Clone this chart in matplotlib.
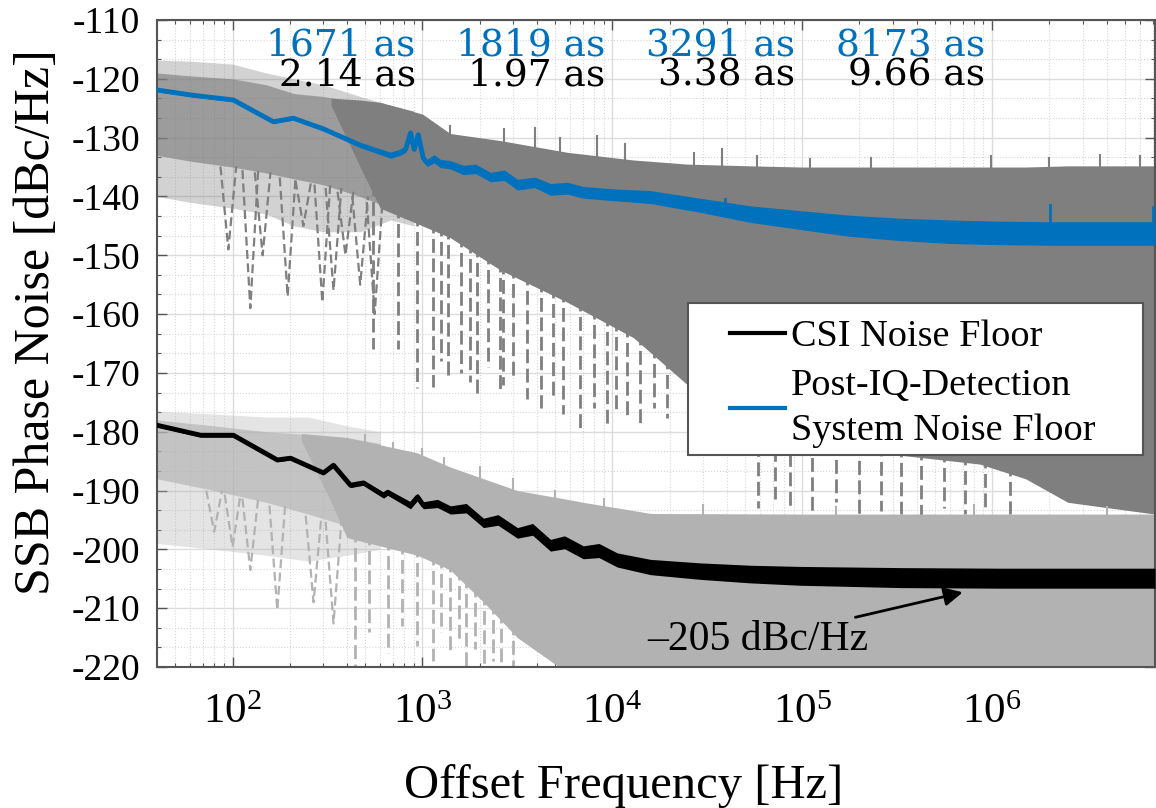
import numpy as np
import matplotlib
matplotlib.use("Agg")
import matplotlib.pyplot as plt
from matplotlib.patches import Rectangle
from matplotlib.ticker import FixedLocator, AutoMinorLocator, LogLocator, NullFormatter

plt.rcParams['font.family'] = 'Liberation Serif'
plt.rcParams['mathtext.fontset'] = 'custom'
plt.rcParams['mathtext.rm'] = 'Liberation Serif'
plt.rcParams['axes.unicode_minus'] = False

BLUE = '#0072BD'
DARK = '#7f7f7f'
LIGHT = '#b2b2b2'

# averaged post-IQ-detection system noise floor
sys_freq = [40, 62, 101, 164, 209, 300, 472, 679, 765, 815, 865, 905, 950, 1010, 1060, 1150,
            1244, 1400, 1644, 1900, 2280, 2700, 3162, 3900, 4720, 5800, 7030, 10000, 15850,
            29000, 53200, 97000, 179000, 328000, 601000, 1.1e6, 2.02e6, 3.7e6, 7.2e6]
sys_db = [-121.9, -122.8, -123.6, -127.3, -126.7, -128.5, -131.3, -133.0, -132.5, -132.0,
          -129.2, -132.0, -129.5, -133.5, -134.3, -133.6, -134.4, -134.6, -135.5, -135.3,
          -136.7, -136.4, -138.0, -137.6, -138.8, -138.6, -139.3, -139.7, -140.1, -141.5,
          -143.0, -144.0, -145.0, -145.6, -146.0, -146.2, -146.3, -146.3, -146.3]
sys_spread = [0.3, 0.3, 0.3, 0.3, 0.3, 0.3, 0.4, 0.5, 0.5, 0.5, 0.5, 0.5, 0.5, 0.6, 0.6, 0.7,
              0.7, 0.7, 0.8, 0.8, 0.8, 0.9, 0.9, 0.9, 1.0, 1.0, 1.0, 1.0, 1.1, 1.2, 1.4, 1.6,
              1.8, 1.9, 2.0, 2.0, 2.0, 2.0, 2.0]
sys_spikes = [(2.02e6, -141.5), (7.0e6, -141.8), (1.1e5, -143.0), (3.9e4, -140.5)]

# averaged CSI noise floor
csi_freq = [40, 68, 101, 172, 202, 301, 340, 418, 489, 624, 655, 865, 942, 1010, 1200, 1403,
            1700, 2094, 2500, 3162, 3800, 4720, 5600, 7030, 8500, 10600, 15850, 29000, 53200,
            97000, 328000, 1.1e6, 7.2e6]
csi_db = [-178.9, -180.6, -180.6, -184.8, -184.5, -187.0, -185.7, -189.1, -188.7, -190.8,
          -190.3, -192.5, -191.1, -192.5, -192.2, -193.3, -193.0, -195.5, -195.0, -197.2,
          -196.6, -199.3, -198.8, -200.5, -200.2, -201.8, -203.0, -203.7, -204.2, -204.5,
          -204.8, -204.9, -204.9]
csi_spread = [0.3, 0.3, 0.3, 0.3, 0.3, 0.3, 0.3, 0.4, 0.4, 0.5, 0.5, 0.6, 0.6, 0.6, 0.7, 0.7,
              0.8, 0.8, 0.9, 0.9, 1.0, 1.0, 1.1, 1.1, 1.2, 1.2, 1.3, 1.4, 1.5, 1.6, 1.7, 1.7, 1.7]

# individual system traces: sparse mesh, denser core, solid part
dk_mesh_f = [40, 60, 100, 150, 210, 300, 470, 680, 900]
dk_mesh_hi = [-116.8, -117.0, -117.5, -119.0, -120.0, -121.0, -123.0, -124.5, -125.5]
dk_mesh_lo = [-140.0, -141.0, -142.0, -143.0, -145.0, -146.0, -146.0, -144.0, -145.0]
dk_core_hi = [-119.0, -119.5, -120.0, -121.0, -122.5, -123.0, -124.0, -124.5, -125.5]
dk_core_lo = [-133.0, -134.0, -135.0, -136.0, -137.0, -138.0, -140.0, -142.0, -144.0]
dk_f = [330, 470, 600, 1000, 1400, 2570, 5800, 12900, 24800, 53200, 1e5, 3.3e5, 8.6e5,
        1.5e6, 2.5e6, 7.2e6]
dk_hi = [-123.3, -123.6, -124.0, -126.0, -129.3, -130.5, -132.5, -133.8, -134.5, -134.8,
         -135.0, -135.0, -135.0, -135.0, -134.8, -134.8]
dk_lo = [-124.5, -135.0, -142.0, -145.0, -147.0, -152.5, -158.0, -164.0, -172.0, -180.0,
         -183.0, -184.0, -185.5, -188.0, -192.0, -194.0]
dk_notches = [(95, -149), (124, -159), (144, -150), (195, -157), (236, -145), (297, -158),
              (340, -156), (393, -150), (470, -155), (560, -160)]
dk_streaks = [(552, -166), (740, -166), (940, -172.6), (1140, -172.4), (1250, -168),
              (1370, -171), (1600, -170), (1790, -171.5), (1940, -173.4), (2200, -169),
              (2570, -173.4), (2660, -172), (3000, -171), (3560, -174.5), (4200, -176),
              (4870, -174), (5500, -177), (6750, -179.4), (8000, -176), (9380, -178.8),
              (10500, -177), (11960, -178), (13900, -178.8), (16500, -176), (19400, -177.6),
              (58600, -192.9), (72000, -191.5), (86000, -193.0), (1.13e5, -193.9),
              (1.5e5, -192.0), (2e5, -195), (2.6e5, -193.5), (3.3e5, -194.0), (4.2e5, -194.5),
              (5.6e5, -193.0), (7.2e5, -194.0), (9.2e5, -193.5), (1.24e6, -194.0)]
dk_grass = [(1400, -128.0), (2700, -128.5), (3900, -128.3), (5300, -130.0), (8300, -129.8),
            (11700, -131.0), (27000, -132.6), (38000, -132.0), (58000, -133.2),
            (1.1e5, -133.7), (2.3e5, -133.5), (9.8e5, -133.2), (2e6, -133.5), (3.7e6, -133.0),
            (6e6, -133.2)]

# individual CSI traces
lt_mesh_f = [40, 80, 150, 250, 400, 600]
lt_mesh_hi = [-176.5, -177.0, -177.5, -177.5, -179.0, -180.0]
lt_mesh_lo = [-199.0, -200.0, -201.0, -202.0, -201.0, -200.0]
lt_core_hi = [-178.0, -179.0, -180.0, -180.5, -181.0, -182.0]
lt_core_lo = [-188.0, -190.0, -192.0, -194.0, -196.0, -197.0]
lt_f = [230, 320, 400, 940, 1400, 2100, 3160, 5800, 7000, 16000, 1e5, 7.2e6]
lt_hi = [-180.3, -180.7, -181.0, -183.6, -186.0, -188.0, -190.0, -191.5, -192.0, -193.9,
         -194.0, -194.0]
lt_lo = [-181.5, -191.0, -198.0, -201.0, -203.5, -209.0, -215.0, -221.0, -221.0, -221.0,
         -221.0, -221.0]
lt_notches = [(80, -197), (100, -199.6), (124, -203.5), (172, -210.3), (267, -209), (340, -212.6)]
lt_streaks = [(443, -220), (520, -214), (655, -217.7), (780, -213), (940, -216.5),
              (1140, -219), (1250, -214), (1400, -218), (1550, -216), (1700, -220),
              (1900, -217), (2100, -220), (2350, -219), (2600, -220), (3000, -220)]
lt_grass = [(500, -180.5), (700, -182.0), (1000, -183.0), (1300, -184.5), (2000, -186.0),
            (3000, -188.0), (5000, -190.0), (9000, -191.5), (30000, -192.5), (1.5e5, -192.8),
            (8e5, -192.5), (4e6, -192.8)]

# integrated timing jitter per decade
jit_pos = [919, 9190, 91900, 919000]
jit_sys = ['1671 as', '1819 as', '3291 as', '8173 as']
jit_csi = ['2.14 as', '1.97 as', '3.38 as', '9.66 as']


def interp_log(f, fs, vals):
    return np.interp(np.log10(f), np.log10(fs), vals)


fig = plt.figure(figsize=(11.56, 8.08), dpi=100)
ax = fig.add_axes([157 / 1156, 1 - 667 / 808, 998 / 1156, 647 / 808])
ax.set_xscale('log')
ax.set_xlim(40, 7.2e6)
ax.set_ylim(-220, -110)

# system trace cloud
ax.fill_between(dk_mesh_f, dk_mesh_hi, dk_mesh_lo, color=DARK, alpha=0.35, lw=0, zorder=2)
ax.fill_between(dk_mesh_f, dk_core_hi, dk_core_lo, color=DARK, alpha=0.65, lw=0, zorder=2)
ax.fill_between(dk_f, dk_hi, dk_lo, color=DARK, lw=0, zorder=2)
for f, d in dk_notches:
    top = interp_log(f, dk_mesh_f, dk_core_lo)
    ax.plot([f / 1.1, f, f * 1.1], [top, d, top], color=DARK, lw=1.6, ls=(0, (4, 2)), zorder=2)
for f, d in dk_streaks:
    top = interp_log(f, dk_f, dk_lo) + 2
    ax.plot([f, f], [top, d], color=DARK, lw=2.0, ls=(0, (5, 2)), zorder=2)
for f, d in dk_grass:
    ax.plot([f, f], [interp_log(f, dk_f, dk_hi) - 1, d], color=DARK, lw=1.5, zorder=2)

# CSI trace cloud
ax.fill_between(lt_mesh_f, lt_mesh_hi, lt_mesh_lo, color=LIGHT, alpha=0.35, lw=0, zorder=2)
ax.fill_between(lt_mesh_f, lt_core_hi, lt_core_lo, color=LIGHT, alpha=0.65, lw=0, zorder=2)
ax.fill_between(lt_f, lt_hi, lt_lo, color=LIGHT, lw=0, zorder=2)
for f, d in lt_notches:
    top = interp_log(f, lt_mesh_f, lt_core_lo)
    ax.plot([f / 1.1, f, f * 1.1], [top, d, top], color=LIGHT, lw=1.6, ls=(0, (4, 2)), zorder=2)
for f, d in lt_streaks:
    top = interp_log(f, lt_f, lt_lo) + 2
    ax.plot([f, f], [top, d], color=LIGHT, lw=2.0, ls=(0, (5, 2)), zorder=2)
for f, d in lt_grass:
    ax.plot([f, f], [interp_log(f, lt_f, lt_hi) - 1, d], color=LIGHT, lw=1.5, zorder=2)

# averaged floors
sys_lo = np.array(sys_db) - np.array(sys_spread)
sys_hi = np.array(sys_db) + np.array(sys_spread)
ax.fill_between(sys_freq, sys_lo, sys_hi, color=BLUE, lw=0, zorder=3)
ax.plot(sys_freq, sys_db, color=BLUE, lw=3.5, zorder=3)
for f, d in sys_spikes:
    ax.plot([f, f], [interp_log(f, sys_freq, sys_db), d], color=BLUE, lw=2, zorder=3)

csi_lo = np.array(csi_db) - np.array(csi_spread)
csi_hi = np.array(csi_db) + np.array(csi_spread)
ax.fill_between(csi_freq, csi_lo, csi_hi, color='black', lw=0, zorder=3)
ax.plot(csi_freq, csi_db, color='black', lw=3.5, zorder=3)

# jitter labels
for f, s1, s2 in zip(jit_pos, jit_sys, jit_csi):
    ax.text(f, -116.0, s1, color=BLUE, ha='right', va='baseline',
            family='DejaVu Serif', fontsize=27, zorder=6)
    ax.text(f, -121.1, s2, color='black', ha='right', va='baseline',
            family='DejaVu Serif', fontsize=27, zorder=6)

ax.annotate('\u2013205 dBc/Hz', xy=(7.0e5, -207.3), xytext=(1.53e4, -215.4),
            ha='left', va='center', fontsize=30, zorder=6,
            arrowprops=dict(arrowstyle='-|>', color='black', lw=2, mutation_scale=28,
                            shrinkA=2, shrinkB=0))

# legend with a wide MATLAB-style box
box = Rectangle((0.532, 0.328), 0.456, 0.235, transform=ax.transAxes,
                facecolor='white', edgecolor='#555555', lw=1.5, zorder=7)
ax.add_patch(box)
h1, = ax.plot([], [], color='black', lw=3)
h2, = ax.plot([], [], color=BLUE, lw=3)
leg = ax.legend([h1, h2], ['CSI Noise Floor', 'Post-IQ-Detection\nSystem Noise Floor'],
                loc='upper left', bbox_to_anchor=(0.574, 0.537), frameon=False,
                fontsize=27.5, handlelength=1.45, handletextpad=0.15, labelspacing=0.38,
                borderpad=0, borderaxespad=0)
for t in leg.get_texts():
    t.set_linespacing(1.4)
leg.set_zorder(8)

# axes styling
ax.xaxis.set_major_locator(FixedLocator([1e2, 1e3, 1e4, 1e5, 1e6]))
ax.xaxis.set_minor_locator(LogLocator(base=10, subs=np.arange(2, 10), numticks=20))
ax.xaxis.set_minor_formatter(NullFormatter())
ax.set_yticks(np.arange(-220, -109, 10))
ax.yaxis.set_minor_locator(AutoMinorLocator(3))
ax.grid(True, which='major', color='#dcdcdc', lw=1.0)
ax.grid(True, which='minor', color='#d6d6d6', lw=0.8, ls=':')
ax.set_axisbelow(True)
ax.tick_params(which='both', direction='in', top=True, right=True, color='#555555')
ax.tick_params(which='major', length=7, width=1)
ax.tick_params(which='minor', length=3, width=0.8)
ax.tick_params(axis='y', labelsize=27, pad=12)
ax.tick_params(axis='x', labelsize=31, pad=19)
for sp in ax.spines.values():
    sp.set_color('#555555')
    sp.set_linewidth(1.5)

ax.set_xlabel('Offset Frequency [Hz]', fontsize=35)
ax.set_ylabel('SSB Phase Noise [dBc/Hz]', fontsize=36)
ax.xaxis.set_label_coords(0.468, -0.15)
ax.yaxis.set_label_coords(-0.097, 0.533)

fig.savefig('out.png', dpi=100)
